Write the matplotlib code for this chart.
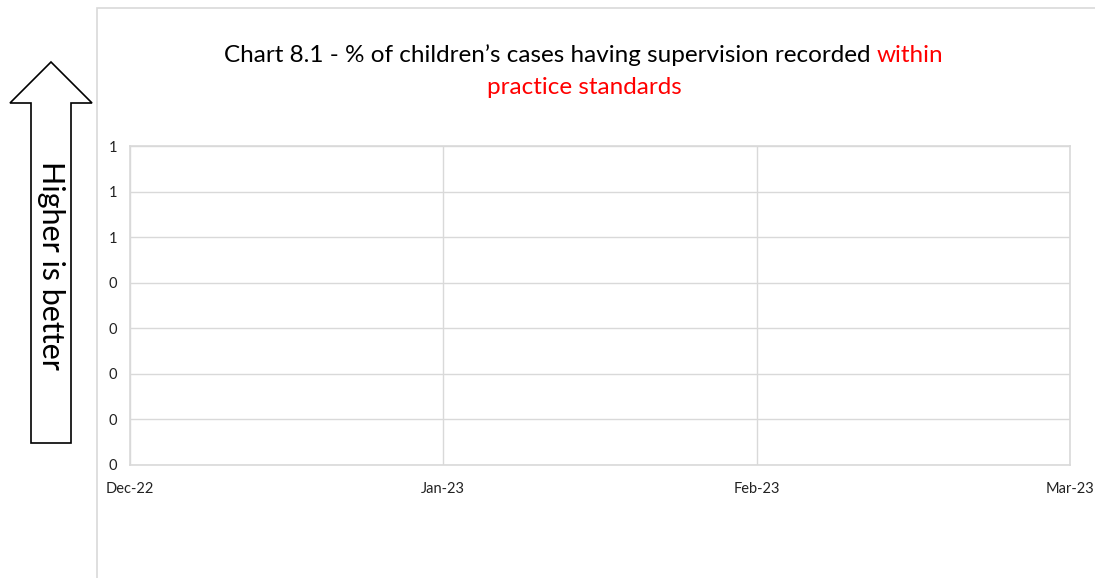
import matplotlib.pyplot as plt
from matplotlib.patches import Polygon, Rectangle
import numpy as np

months = ['Dec-22', 'Jan-23', 'Feb-23', 'Mar-23']
y_ticks = [0, 0.1, 0.2, 0.3, 0.4, 0.5, 0.6, 0.7]
y_tick_labels = ['0', '0', '0', '0', '0', '1', '1', '1']
pct_within = []  # no data recorded for this period

W, H = 1095, 578
plt.rcParams['font.family'] = ['Lato', 'DejaVu Sans']

fig = plt.figure(figsize=(W / 100, H / 100), dpi=100)

def fx(px):
    return px / W

def fy(py):
    return 1 - py / H

# outer chart frame (goes off the image right/bottom)
fig.patches.append(Rectangle((fx(97), fy(600)), fx(1100), fy(8) - fy(600),
                             transform=fig.transFigure, fill=False,
                             edgecolor='#d9d9d9', linewidth=1.2))

ax = fig.add_axes([fx(130), fy(465), fx(1070) - fx(130), fy(146) - fy(465)])
x = np.arange(len(months))
ax.plot(x[:len(pct_within)], pct_within, color='#4472c4')
ax.set_xlim(0, len(months) - 1)
ax.set_ylim(y_ticks[0], y_ticks[-1])
ax.set_xticks(x)
ax.set_xticklabels(months, fontsize=10.5, color='#222222')
ax.set_yticks(y_ticks)
ax.set_yticklabels(y_tick_labels, fontsize=10.5, color='#222222')
ax.tick_params(length=0)
ax.tick_params(axis='x', pad=12)
ax.tick_params(axis='y', pad=9.5)
ax.grid(True, color='#d9d9d9', linewidth=1)
for s in ax.spines.values():
    s.set_color('#d9d9d9')
    s.set_linewidth(1.2)

# title, with the red part
fig.canvas.draw()
r = fig.canvas.get_renderer()
black = 'Chart 8.1 - % of children\u2019s cases having supervision recorded '
t1 = fig.text(0, fy(55), black, fontsize=17.5, va='center', ha='left')
t2 = fig.text(0, fy(55), 'within', fontsize=17.5, va='center', ha='left', color='red')
w1 = t1.get_window_extent(r).width
w2 = t2.get_window_extent(r).width
x0 = 584 - (w1 + w2) / 2
t1.set_x(fx(x0))
t2.set_x(fx(x0 + w1))
fig.text(fx(584), fy(88), 'practice standards', fontsize=17.5, va='center',
         ha='center', color='red')

# "higher is better" arrow
pts = [(31, 443), (31, 103), (10, 103), (51, 62), (92, 103), (71, 103), (71, 443)]
fig.patches.append(Polygon([(fx(a), fy(b)) for a, b in pts], closed=True,
                           transform=fig.transFigure, facecolor='white',
                           edgecolor='black', linewidth=1.2))
fig.text(fx(51), fy(265), 'Higher is better', rotation=-90, fontsize=22,
         ha='center', va='center')

fig.savefig('out.png', dpi=100)
